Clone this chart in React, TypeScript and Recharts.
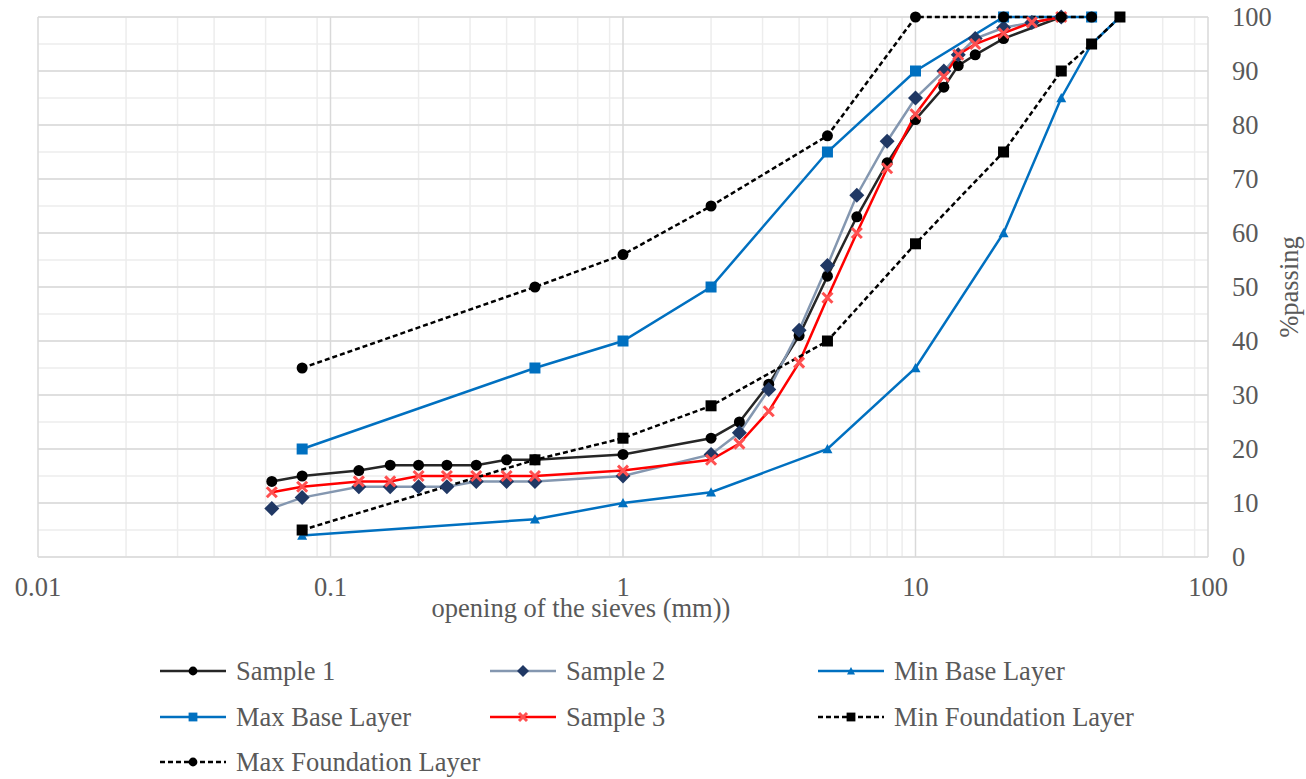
import React from "react";
import {
  LineChart,
  Line,
  XAxis,
  YAxis,
  CartesianGrid,
  Label,
} from "recharts";

// sieve openings (mm)
const sampleSieves = [0.063, 0.08, 0.125, 0.16, 0.2, 0.25, 0.315, 0.4, 0.5, 1, 2, 2.5, 3.15, 4, 5, 6.3, 8, 10, 12.5, 14, 16, 20, 25, 31.5];
const sample1Sieves = [0.063, 0.08, 0.125, 0.16, 0.2, 0.25, 0.315, 0.4, 0.5, 1, 2, 2.5, 3.15, 4, 5, 6.3, 8, 10, 12.5, 14, 16, 20, 31.5];
const specSieves = [0.08, 0.5, 1, 2, 5, 10, 20, 31.5, 40, 50];
const maxBaseSieves = [0.08, 0.5, 1, 2, 5, 10, 20, 40];
const maxFoundSieves = [0.08, 0.5, 1, 2, 5, 10, 20, 31.5, 40];

// % passing
const sample1 = [14, 15, 16, 17, 17, 17, 17, 18, 18, 19, 22, 25, 32, 41, 52, 63, 73, 81, 87, 91, 93, 96, 100];
const sample2 = [9, 11, 13, 13, 13, 13, 14, 14, 14, 15, 19, 23, 31, 42, 54, 67, 77, 85, 90, 93, 96, 98, 99, 100];
const sample3 = [12, 13, 14, 14, 15, 15, 15, 15, 15, 16, 18, 21, 27, 36, 48, 60, 72, 82, 89, 93, 95, 97, 99, 100];
const minBase = [4, 7, 10, 12, 20, 35, 60, 85, 95, 100];
const maxBase = [20, 35, 40, 50, 75, 90, 100, 100];
const minFoundation = [5, 18, 22, 28, 40, 58, 75, 90, 95, 100];
const maxFoundation = [35, 50, 56, 65, 78, 100, 100, 100, 100];

const xTicks = [0.01, 0.1, 1, 10, 100];
const yTicks = [0, 10, 20, 30, 40, 50, 60, 70, 80, 90, 100];

const decades = [0.01, 0.1, 1, 10];
const minorX = decades.flatMap((d) => [2, 3, 4, 5, 6, 7, 8, 9].map((m) => +(d * m).toPrecision(3)));
const minorY = Array.from({ length: 101 }, (_, i) => i);

const toPoints = (xs: number[], ys: number[]) => xs.map((x, i) => ({ x, y: ys[i] }));

const FONT = "Times New Roman, Liberation Serif, DejaVu Serif";
const FS = 26.5;
const TEXT = "#595959";
const BLUE = "#0070C0";

type Marker = "circle" | "diamond" | "triangle" | "square" | "cross";

const drawMarker = (kind: Marker, cx: number, cy: number, color: string, s = 1, key?: any) => {
  if (kind === "circle") return <circle key={key} cx={cx} cy={cy} r={5.5 * s} fill={color} />;
  if (kind === "square") {
    const h = 5.5 * s;
    return <rect key={key} x={cx - h} y={cy - h} width={2 * h} height={2 * h} fill={color} />;
  }
  if (kind === "diamond") {
    const h = 7.5 * s;
    return <polygon key={key} points={`${cx},${cy - h} ${cx + h},${cy} ${cx},${cy + h} ${cx - h},${cy}`} fill={color} />;
  }
  if (kind === "triangle") {
    const h = 5 * s;
    return <polygon key={key} points={`${cx},${cy - h} ${cx + h},${cy + h * 0.85} ${cx - h},${cy + h * 0.85}`} fill={color} />;
  }
  const h = 5 * s;
  return (
    <g key={key} stroke={color} strokeWidth={3}>
      <line x1={cx - h} y1={cy - h} x2={cx + h} y2={cy + h} />
      <line x1={cx - h} y1={cy + h} x2={cx + h} y2={cy - h} />
    </g>
  );
};

const dotFor = (kind: Marker, color: string) => (props: any) =>
  drawMarker(kind, props.cx, props.cy, color, 1, props.key ?? `${props.index}`);

const series = [
  { name: "Sample 1", data: toPoints(sample1Sieves, sample1), line: "#262626", marker: "circle" as Marker, markerColor: "#000000", dash: undefined },
  { name: "Sample 2", data: toPoints(sampleSieves, sample2), line: "#8497B0", marker: "diamond" as Marker, markerColor: "#203864", dash: undefined },
  { name: "Min Base Layer", data: toPoints(specSieves, minBase), line: BLUE, marker: "triangle" as Marker, markerColor: BLUE, dash: undefined },
  { name: "Max Base Layer", data: toPoints(maxBaseSieves, maxBase), line: BLUE, marker: "square" as Marker, markerColor: BLUE, dash: undefined },
  { name: "Sample 3", data: toPoints(sampleSieves, sample3), line: "#FF0000", marker: "cross" as Marker, markerColor: "#FF5050", dash: undefined },
  { name: "Min Foundation Layer", data: toPoints(specSieves, minFoundation), line: "#000000", marker: "square" as Marker, markerColor: "#000000", dash: "5 3" },
  { name: "Max Foundation Layer", data: toPoints(maxFoundSieves, maxFoundation), line: "#000000", marker: "circle" as Marker, markerColor: "#000000", dash: "5 3" },
];

const XTitle = ({ viewBox }: any) => (
  <text x={viewBox.x + viewBox.width / 2 - 42} y={617} textAnchor="middle" style={{ fontFamily: FONT }} fontSize={FS} fill={TEXT}>
    opening of the sieves (mm))
  </text>
);

const YTitle = ({ viewBox }: any) => {
  const cx = 1289;
  const cy = viewBox.y + viewBox.height / 2;
  return (
    <text x={cx} y={cy} transform={`rotate(-90 ${cx} ${cy})`} textAnchor="middle" dominantBaseline="central" style={{ fontFamily: FONT }} fontSize={FS} fill={TEXT}>
      %passing
    </text>
  );
};

const legendPos = [
  [160, 671], [490, 671], [818, 671],
  [160, 717], [490, 717], [818, 717],
  [160, 762],
];

export default function App() {
  return (
    <div style={{ position: "absolute", left: 0, top: 0, width: 1306, height: 779, background: "#fff", fontFamily: FONT }}>
      <LineChart width={1306} height={640} margin={{ top: 17, right: 38, left: 38, bottom: 13 }} style={{ fontFamily: FONT }}>
        <CartesianGrid stroke="#EDEDED" strokeWidth={1.5} verticalValues={minorX} horizontalValues={minorY} />
        <CartesianGrid stroke="#D9D9D9" strokeWidth={1.5} verticalValues={xTicks} horizontalValues={yTicks} />
        <XAxis
          type="number"
          dataKey="x"
          scale="log"
          domain={[0.01, 100]}
          ticks={xTicks}
          allowDataOverflow
          axisLine={false}
          tickLine={false}
          tickSize={0}
          tickMargin={20}
          height={70}
          tickFormatter={(v) => String(v)}
          tick={{ fontSize: FS, fill: TEXT, style: { fontFamily: FONT } }}
        >
          <Label content={<XTitle />} />
        </XAxis>
        <YAxis
          orientation="right"
          type="number"
          dataKey="y"
          domain={[0, 100]}
          ticks={yTicks}
          axisLine={false}
          tickLine={false}
          tickSize={0}
          tickMargin={24}
          width={60}
          tick={{ fontSize: FS, fill: TEXT, textAnchor: "start", style: { fontFamily: FONT } }}
        >
          <Label content={<YTitle />} />
        </YAxis>
        {series.map((s) => (
          <Line
            key={s.name}
            data={s.data}
            dataKey="y"
            name={s.name}
            type="linear"
            stroke={s.line}
            strokeWidth={2.5}
            strokeDasharray={s.dash}
            dot={dotFor(s.marker, s.markerColor)}
            activeDot={false}
            isAnimationActive={false}
          />
        ))}
      </LineChart>
      <svg width={1306} height={139} style={{ position: "absolute", left: 0, top: 640 }}>
        {series.map((s, i) => {
          const [lx, ly] = legendPos[i];
          const y = ly - 640;
          return (
            <g key={s.name}>
              <line x1={lx} y1={y} x2={lx + 66} y2={y} stroke={s.line} strokeWidth={2.5} strokeDasharray={s.dash} />
              {drawMarker(s.marker, lx + 33, y, s.markerColor, 0.8)}
              <text x={lx + 76} y={y} dominantBaseline="central" style={{ fontFamily: FONT }} fontSize={FS} fill={TEXT}>
                {s.name}
              </text>
            </g>
          );
        })}
      </svg>
    </div>
  );
}
